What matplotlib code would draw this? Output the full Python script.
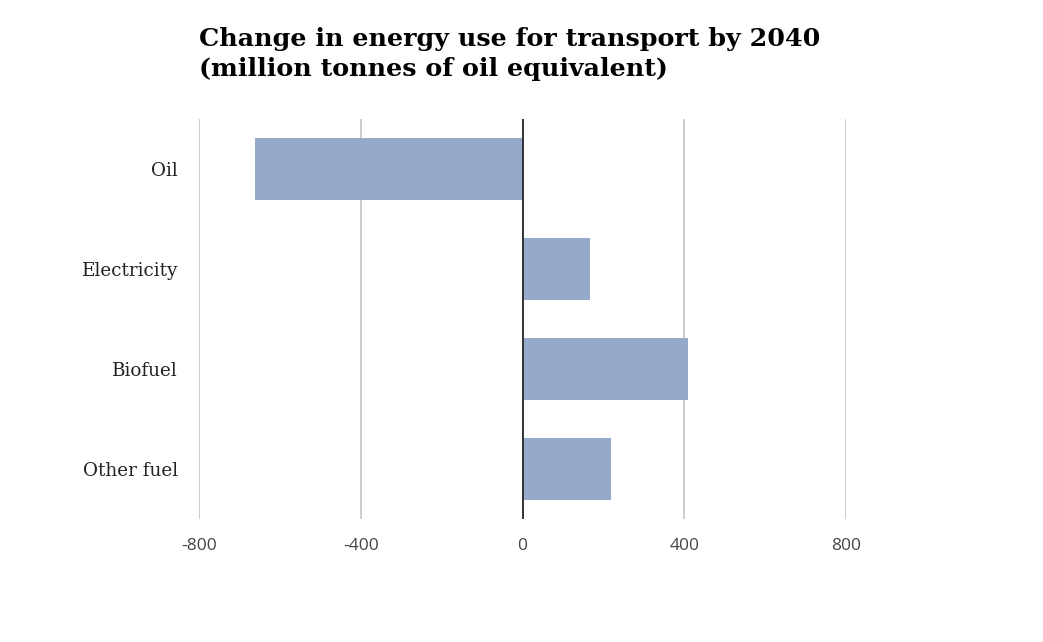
import matplotlib
matplotlib.use("Agg")
import matplotlib.pyplot as plt

categories = ["Oil", "Electricity", "Biofuel", "Other fuel"]
values = [-662, 168, 410, 220]
xticks = [-800, -400, 0, 400, 800]
xtick_labels = ["-800", "-400", "0", "400", "800"]
title = "Change in energy use for transport by 2040\n(million tonnes of oil equivalent)"

fig = plt.figure(figsize=(10.43, 6.42), dpi=100)
ax = fig.add_axes([199/1043, 1-519/642, (846-199)/1043, 400/642])

ypos = list(range(len(categories)))
ax.barh(ypos, values, height=0.62, color="#97a9ca", zorder=2)
ax.set_ylim(3.5, -0.5)
ax.set_xlim(-800, 800)

for x in xticks:
    if x == 0:
        ax.axvline(x, color="#333333", lw=1.4, zorder=3)
    else:
        ax.axvline(x, color="#c8c8c8", lw=1.3, zorder=1)

ax.set_xticks(xticks)
ax.set_xticklabels(xtick_labels, family="Open Sans", fontsize=12.5, color="#444444")
ax.set_yticks(ypos)
ax.set_yticklabels(categories, family="DejaVu Serif", fontsize=13.2, color="#222222")
ax.tick_params(axis="both", length=0)
ax.tick_params(axis="x", pad=14)
ax.tick_params(axis="y", pad=15)
for s in ax.spines.values():
    s.set_visible(False)

fig.text(199/1043, 1-27/642, title, family="DejaVu Serif", fontweight="heavy",
         fontsize=18.3, va="top", ha="left", color="#000000", linespacing=1.32)

fig.savefig("out.png", dpi=100, facecolor="white")
